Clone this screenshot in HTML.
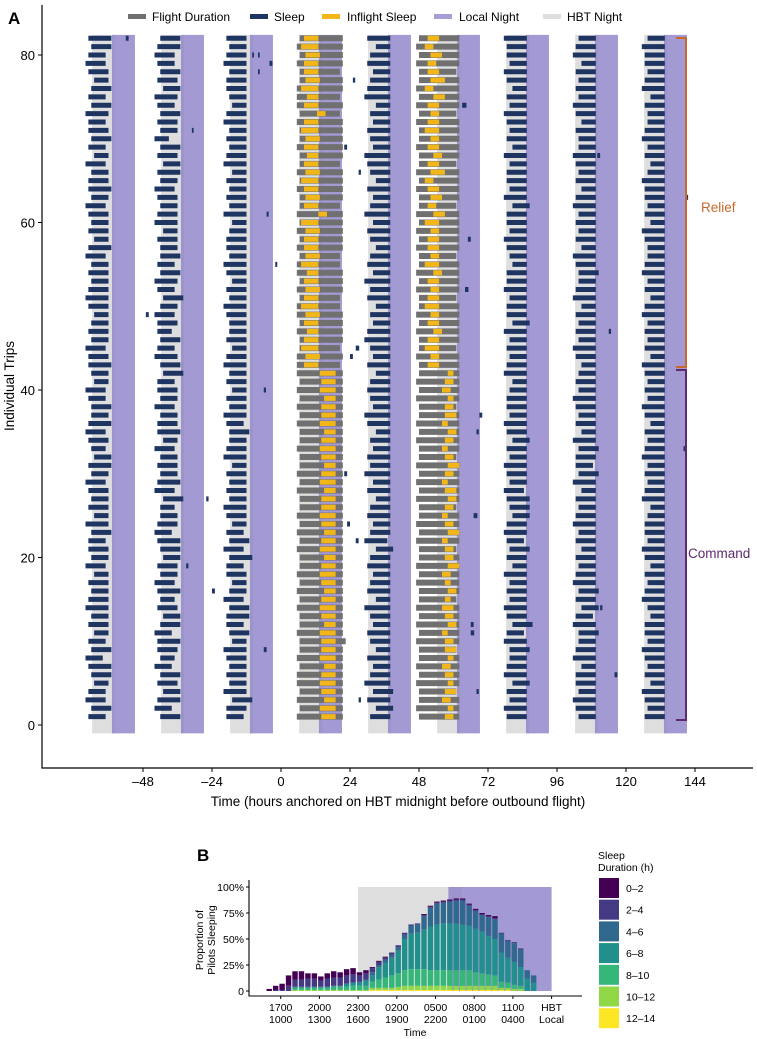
<!DOCTYPE html>
<html><head><meta charset="utf-8">
<style>
html,body{margin:0;padding:0;background:#fff;}
svg{display:block;font-family:"Liberation Sans",Arial,sans-serif;}
</style></head>
<body>
<svg id="chart" width="757" height="1039" viewBox="0 0 757 1039" xmlns="http://www.w3.org/2000/svg">
<g id="gA"></g>
<g id="gB"></g>
</svg>
<script>
// ---------- Panel A data (82 trips; index 0 = trip 1) ----------
const aS=[1,2,0,1,3,2,1,0,2,1,3,1,2,0,1,2,1,3,0,2,1,1,2,0,3,1,2,1,0,2,1,3,2,1,0,1,2,2,1,0,3,2,1,1,0,2,1,2,3,1,0,1,2,1,2,0,1,3,1,2,1,0,2,1,1,2,0,3,1,2,1,1,0,2,1,2,3,1,0,1,2,1];
const aD=[6,7,7,6,5,7,8,6,7,6,5,7,6,8,7,6,7,5,7,6,7,6,7,8,5,7,6,7,7,6,8,6,5,7,7,8,6,7,6,7,5,6,8,7,7,6,7,6,5,7,8,7,6,7,6,7,8,5,7,6,7,7,6,8,7,6,7,5,6,7,7,6,8,7,6,7,5,7,7,6,7,8];
const bS=[2,0,1,3,1,2,0,2,1,1,0,2,3,1,2,1,0,2,1,3,2,1,0,1,2,2,3,0,1,2,1,2,0,3,1,1,2,0,2,1,1,3,2,0,1,2,1,1,0,2,3,1,0,2,1,2,2,1,3,0,1,2,1,0,2,1,3,1,2,0,2,1,2,1,0,3,1,2,1,0,1,2];
const bD=[7,6,8,6,7,7,6,5,7,8,6,7,6,7,5,8,7,6,7,6,7,8,6,7,6,5,7,7,8,6,7,6,7,5,8,7,6,7,6,7,6,7,7,8,6,7,5,7,7,6,7,6,8,7,6,7,6,7,5,8,7,6,7,7,6,8,6,7,7,5,6,7,7,6,8,6,7,7,6,7,8,7];
const cS=[1,1,3,0,2,1,2,1,0,3,2,1,1,2,0,2,3,1,1,2,0,2,1,3,1,0,2,1,2,1,3,0,1,2,2,1,0,2,1,3,1,2,0,1,3,1,2,2,1,0,2,1,3,1,0,2,1,1,2,3,0,2,1,2,1,3,0,1,2,1,2,0,1,3,2,1,1,2,0,1,2,1];
const cD=[6,7,7,8,6,7,6,7,8,5,7,6,8,7,7,6,5,7,6,8,7,7,6,5,7,8,6,7,6,7,5,8,7,6,7,6,8,6,7,5,7,6,8,7,5,7,6,6,7,8,6,7,5,7,8,6,7,7,6,5,8,6,7,6,7,5,8,7,6,7,6,8,7,5,6,7,7,6,8,7,6,7];
const dS=[2,4,1,3,0,2,3,1,4,2,1,3,2,0,4,1,2,3,1,2,4,0,2,3,1,2,4,1,3,0,2,1,3,2,4,1,0,3,2,1,2,4,1,3,2,0,1,3,2,4,1,2,0,3,1,2,4,2,1,3,0,2,3,1,4,2,1,0,3,2,1,3,2,4,0,1,2,3,1,2,4,1];
const dD=[7,6,8,7,9,7,6,8,5,7,8,6,7,9,5,8,7,6,8,7,6,8,7,6,8,7,5,8,6,9,7,8,6,7,5,8,9,6,7,8,7,5,8,6,7,9,8,6,7,5,8,7,9,6,8,7,5,7,8,6,9,7,6,8,5,7,8,9,6,7,8,6,7,5,9,8,7,6,8,7,5,8];
const eS=[1,0,2,1,3,0,1,2,2,0,1,3,1,0,2,1,2,0,3,1,2,1,0,1,3,2,1,0,2,1,0,2,1,3,1,0,2,1,1,2,3,0,1,2,1,2,0,3,1,1,2,0,1,1,3,2,1,0,2,1,1,3,0,2,1,1,2,0,3,1,2,1,0,2,1,3,1,0,2,1,1,0];
const eD=[7,8,6,7,6,8,7,6,7,8,6,7,7,8,6,7,6,8,5,7,7,6,8,7,6,7,8,7,6,7,8,6,7,6,7,8,6,7,7,6,5,8,7,6,7,6,8,6,7,7,6,8,7,7,5,6,7,8,6,7,7,6,8,6,7,7,6,8,5,7,6,7,8,6,7,5,7,8,6,7,7,8];
const fS=[2,1,0,2,1,1,3,0,1,2,2,0,1,3,1,2,0,1,2,1,3,1,2,0,1,2,1,3,0,2,1,1,2,0,3,1,2,1,0,2,1,2,3,1,0,2,1,2,1,3,0,1,2,2,1,0,3,1,2,1,2,0,1,3,1,2,1,0,2,2,1,3,1,0,2,1,2,1,3,0,1,2];
const fD=[6,7,8,6,7,7,5,8,7,6,7,8,6,6,7,7,8,7,6,7,5,7,6,8,7,6,7,5,8,7,6,7,7,8,5,7,6,7,8,6,7,6,5,7,8,6,7,6,7,5,8,7,6,7,7,8,5,7,6,7,6,8,7,5,7,6,7,8,6,6,7,5,7,8,6,7,6,7,5,8,7,6];
const gS=[1,2,1,0,3,1,2,1,0,2,1,1,3,2,0,1,2,1,3,1,0,2,1,1,2,3,0,1,2,1,2,0,1,2,1,3,1,0,2,1,2,1,0,3,1,2,1,2,0,1,3,1,2,0,1,2,2,1,0,3,1,2,1,1,0,2,3,1,2,0,1,2,2,1,3,0,1,2,1,1,0,2];
const gD=[7,6,7,8,5,7,6,7,8,6,7,7,5,6,8,7,6,7,5,7,8,6,7,7,6,5,8,7,6,7,6,8,7,6,7,5,7,8,6,7,6,7,8,5,7,6,7,6,8,7,5,7,6,8,7,6,6,7,8,5,7,6,7,7,8,6,5,7,6,8,7,6,6,7,5,8,7,6,7,7,8,6];
const outS=[6,7,6,7,6,6,7,6,7,7,6,7,7,6,7,6,7,6,7,7,6,7,6,7,6,7,7,6,7,6,7,7,6,7,7,6,7,6,7,6,7,6,6,6,7,7,6,7,6,6,7,6,7,6,6,7,6,7,6,7,6,7,7,6,7,6,7,7,6,7,7,6,7,6,6,6,7,7,6,7,6,7];
const outD=[16,15,16,15,16,16,15,16,15,16,16,15,15,16,15,16,15,16,15,15,16,15,16,15,16,15,15,16,15,16,15,15,16,15,15,16,15,16,15,16,15,16,15,16,14,15,16,15,16,15,14,16,15,16,15,14,16,15,16,15,16,14,15,16,15,16,14,15,16,15,15,16,14,16,15,16,15,14,16,15,16,15];
const outYS=[14,13.5,15,14,13.5,14,15,13.5,14,14,13.5,15,14,13.5,14,15,14,13.5,14,15,13.5,14,15,14,13.5,14,14,15,13.5,14,15,14,13.5,14,15,13.5,14,14,15,13.5,14,13.5,8,8.5,7,8,9,8,8.5,7,8,8.5,8,9,7,8.5,8,8,8.5,7,13,8,8.5,8,7,8.5,8,9,8,8.5,7,8,12.5,8,9,7,8.5,8,8,8.5,7,8];
const outYD=[5,5.5,4,5,5.5,5,4,5.5,5,5,5.5,4,5,5.5,5,4,5,5.5,5,4,5.5,5,4,5,5.5,5,5,4,5.5,5,4,5,5.5,5,4,5.5,5,5,4,5.5,5,5.5,5,5,6,5,4,5,5,6,5,5,5,4,6,5,5,5,5,6,3,5,5,5,6,5,5,4,5,5,6,5,3,5,4,6,5,5,5,5,6,5];
const retS=[48,47,48,48,47,48,47,48,48,47,48,47,48,47,48,48,47,48,47,48,48,47,48,47,48,48,47,48,47,48,47,48,48,47,48,47,48,48,47,48,47,48,48,47,48,48,47,48,47,48,48,47,48,47,48,48,47,48,47,48,47,48,48,47,48,47,48,48,47,48,48,47,48,47,48,47,48,48,47,48,47,48];
const retD=[14,15,14,13,15,14,15,14,13,15,14,15,14,15,13,14,15,14,15,14,13,15,14,15,14,13,15,14,15,14,15,13,14,15,14,15,14,13,15,14,15,14,14,15,13,14,15,14,15,14,13,15,14,15,14,13,15,14,15,14,15,13,14,15,14,15,13,14,15,14,14,15,13,15,14,15,14,13,15,14,15,14];
const retYS=[57,58,56,57,58,57,56,58,57,57,56,58,57,56,57,58,57,56,58,57,57,56,58,57,56,57,58,57,56,57,58,57,56,57,58,56,57,57,58,56,57,58,51,52,50,51,53,51,52,50,51,52,51,53,50,52,51,51,52,50,53,51,52,51,50,52,51,53,51,52,50,51,52,51,53,50,52,51,51,52,50,51];
const retYD=[3,2,3,4,2,3,3,2,4,3,2,3,3,4,2,3,2,3,4,3,3,2,4,3,2,3,3,4,2,3,4,3,2,3,3,2,4,3,2,3,3,2,4,3,5,4,3,4,3,5,4,3,4,3,5,3,4,4,3,5,4,3,4,4,3,5,4,3,4,3,5,4,3,4,4,3,5,4,3,4,3,4];
const napTrip=[82,80,80,79,77,74,71,68,66,63,58,55,52,49,47,44,40,37,33,30,27,25,22,19,16,14,11,9,6,4,78,69,61,45,35,24,12,3];
const napHour=[-54,-10,-8,-4,25,63,-31,110,27,141,65,-2,64,-47,114,24,-6,69,140,22,-26,67,26,-33,-24,111,66,-6,116,68,-8,22,-5,26,68,23,66,27];
const napDur=[1,0.6,0.6,1,0.8,1.5,0.6,1,0.8,0.6,1,0.7,1.2,1,0.8,1,0.8,1,0.6,1,0.8,1.3,1,0.8,1,0.8,1.2,1,1,0.8,0.6,1,0.7,1.2,0.8,1,1,0.8];
const xTicksA=[-48,-24,0,24,48,72,96,120,144];
const yTicksA=[0,20,40,60,80];
const bandDays=[-72,-48,-24,0,24,48,72,96,120];

// ---------- Panel B data (half-hour bins) ----------
const binIndex=[0,1,2,3,4,5,6,7,8,9,10,11,12,13,14,15,16,17,18,19,20,21,22,23,24,25,26,27,28,29,30,31,32,33,34,35,36,37,38,39,40,41];
const c1214=[0,0,0,0,0,0,0,0,0,0,0,0,0,0,0,0,1,1,1,1,1,1,1,1,1,1,1,1,1,1,1,1,1,1,1,1,1,1,0,0,0,0];
const c1012=[0,0,0,0,1,1,1,1,1,1,1,1,1,1,1,1,2,2,2,2,3,4,4,4,4,4,4,4,4,4,4,4,4,4,4,4,2,2,2,2,0,0];
const c810=[0,0,0,0,2,2,2,2,2,2,3,3,3,4,4,4,6,8,10,12,13,15,16,16,16,15,15,15,15,15,15,15,13,12,11,10,6,5,4,3,0,0];
const c68=[0,0,0,0,1,1,1,1,1,1,1,1,3,3,3,5,6,12,14,17,22,30,34,35,38,42,44,45,45,45,44,43,42,40,37,35,28,24,22,18,12,8];
const c46=[0,0,0,0,0,0,0,0,0,0,0,0,0,0,1,1,3,2,3,3,3,4,8,8,13,18,20,20,21,22,23,19,17,16,18,19,18,16,18,17,8,7];
const c24=[0,1,1,5,7,7,8,8,6,8,8,8,8,8,6,6,4,3,2,2,2,2,1,1,1,1,1,1,1,1,1,1,1,1,1,1,1,1,1,1,0,0];
const c02=[2,4,6,10,8,8,5,5,4,5,6,5,6,6,3,3,1,1,1,0,0,0,0,0,1,1,1,1,1,1,1,1,1,1,1,2,0,0,0,0,0,0];
const catLabels=["0–2","2–4","4–6","6–8","8–10","10–12","12–14"];
const xTicksBHbt=["1700","2000","2300","0200","0500","0800","1100","HBT"];
const xTicksBLoc=["1000","1300","1600","1900","2200","0100","0400","Local"];
const yTicksB=[0,25,50,75,100];

const NS="http://www.w3.org/2000/svg";
const gA=document.getElementById('gA');
const gB=document.getElementById('gB');
function mk(tag,parent,attrs){const e=document.createElementNS(NS,tag);for(const k in attrs)e.setAttribute(k,attrs[k]);parent.appendChild(e);return e;}
function txt(parent,x,y,s,size,anchor,fill,weight){const e=mk('text',parent,{x:x,y:y,'font-size':size,'text-anchor':anchor||'start',fill:fill||'#000','font-weight':weight||'normal'});e.textContent=s;return e;}

const xA=h=>281+h*2.875;
const yA=t=>725-t*8.375;

bandDays.forEach((d,i)=>{
  const g=mk('rect',gA,{x:xA(d+6.3),y:yA(82.4),width:xA(d+14.3)-xA(d+6.3),height:yA(-1)-yA(82.4),fill:'#dedede'});
  
  
  const p=mk('rect',gA,{x:xA(d+13.2),y:yA(82.4),width:xA(d+21.2)-xA(d+13.2),height:yA(-1)-yA(82.4),fill:'rgba(140,128,200,0.8)'});
  
  
});

function bar(h0,dur,trip,fill,hh,name){
  if(dur<=0)return;
  const r=mk('rect',gA,{x:xA(h0),y:yA(trip)-hh/2,width:dur*2.875,height:hh,fill:fill});
  
  
}
const NAVY='#1e3461',GREY='#707070',YEL='#f2b619';
const cols=[[aS,aD,-68],[bS,bD,-44],[cS,cD,-20],[dS,dD,29],[eS,eD,77.5],[fS,fD,101.5],[gS,gD,125.5]];
for(let i=0;i<82;i++){
  const t=i+1;
  bar(outS[i]-0.5,outD[i],t,GREY,6,'flight-duration-bar');
  bar(outYS[i],outYD[i],t,YEL,5,'inflight-sleep-bar');
  bar(retS[i],retD[i],t,GREY,6,'flight-duration-bar');
  bar(retYS[i],retYD[i],t,YEL,5,'inflight-sleep-bar');
  cols.forEach(c=>bar(c[2]+c[0][i],c[1][i],t,NAVY,5,'sleep-bar'));
}
napTrip.forEach((t,i)=>bar(napHour[i],napDur[i],t,NAVY,5,'nap-bar'));

const axA=mk('path',gA,{d:'M42,5 V768 H753',stroke:'#000','stroke-width':1.2,fill:'none'});


xTicksA.forEach(v=>{
  mk('line',gA,{x1:xA(v),x2:xA(v),y1:768,y2:772,stroke:'#000'});
  const l=txt(gA,xA(v),786,v<0?'–'+(-v):String(v),13,'middle');
  
  
});
yTicksA.forEach(v=>{
  mk('line',gA,{x1:38,x2:42,y1:yA(v),y2:yA(v),stroke:'#000'});
  const l=txt(gA,35,yA(v)+5,String(v),13,'end');
  
  
});
const xt=txt(gA,398,806,'Time (hours anchored on HBT midnight before outbound flight)',13.5,'middle');


const yt=txt(gA,0,0,'Individual Trips',13.5,'middle');
yt.setAttribute('transform','translate(14,386) rotate(-90)');


const la=txt(gA,8,24,'A',17,'start','#000','bold');



const legA=[['Flight Duration',GREY,128,152],['Sleep',NAVY,250,274],['Inflight Sleep',YEL,322,347],['Local Night','#a69ed4',434,459],['HBT Night','#dedede',543,567]];
legA.forEach(l=>{
  const s=mk('rect',gA,{x:l[2],y:14,width:18,height:5,fill:l[1]});
  
  
  const tt=txt(gA,l[3],21,l[0],12);
  
  
});

const br1=mk('path',gA,{d:'M676,38 H686 V367 H676',stroke:'#c8692c','stroke-width':2,fill:'none'});


const br2=mk('path',gA,{d:'M676,370 H686 V720 H676',stroke:'#5e2a6e','stroke-width':2,fill:'none'});


const rl=txt(gA,701,212,'Relief',13.5,'start','#c8692c');


const cl=txt(gA,688,558,'Command',13.5,'start','#5e2a6e');



// ---------- Panel B ----------
const xB=h=>280.7+(h-17)*12.9;
const yB=p=>991-p*1.04;
const bgG=mk('rect',gB,{x:xB(23),y:yB(100),width:xB(31)-xB(23),height:yB(0)-yB(100),fill:'#dedede'});


const bgP=mk('rect',gB,{x:xB(30),y:yB(100),width:xB(38)-xB(30),height:yB(0)-yB(100),fill:'rgba(140,128,200,0.8)'});


const VIR=['#440154','#443a83','#31688e','#21908c','#35b779','#8fd744','#fde725'];
const stackOrder=[[c1214,6],[c1012,5],[c810,4],[c68,3],[c46,2],[c24,1],[c02,0]];
binIndex.forEach(i=>{
  const h0=15.86+i*0.5;
  let cum=0;
  stackOrder.forEach(s=>{
    const v=s[0][i];
    if(v>0){
      const r=mk('rect',gB,{x:xB(h0)+0.5,y:yB(cum+v),width:12.9*0.5-1,height:v*1.04,fill:VIR[s[1]]});
      
      
    }
    cum+=v;
  });
});
const axB=mk('path',gB,{d:'M249,880 V996 H582',stroke:'#000','stroke-width':1.1,fill:'none'});


yTicksB.forEach(v=>{
  mk('line',gB,{x1:246,x2:249,y1:yB(v),y2:yB(v),stroke:'#000'});
  const l=txt(gB,244,yB(v)+4,v===0?'0':v+'%',10.5,'end');
  
  
});
xTicksBHbt.forEach((s,i)=>{
  const x=xB(17+3*i);
  mk('line',gB,{x1:x,x2:x,y1:996,y2:999,stroke:'#000'});
  const a=txt(gB,x,1011,s,10.5,'middle');
  
  
  const b=txt(gB,x,1023,xTicksBLoc[i],10.5,'middle');
  
  
});
const tB=txt(gB,415,1036,'Time',10.5,'middle');


const yb1=txt(gB,0,0,'Proportion of',10.5,'middle');
yb1.setAttribute('transform','translate(203,940) rotate(-90)');


const yb2=txt(gB,0,0,'Pilots Sleeping',10.5,'middle');
yb2.setAttribute('transform','translate(215,940) rotate(-90)');


const lb=txt(gB,197,861,'B',17,'start','#000','bold');


const lt1=txt(gB,598,859,'Sleep',10.5);


const lt2=txt(gB,598,871,'Duration (h)',10.5);


catLabels.forEach((s,i)=>{
  const y=878+i*21.7;
  const r=mk('rect',gB,{x:599,y:y,width:20,height:20,fill:VIR[i]});
  
  
  const l=txt(gB,626,y+14,s,10.5);
  
  
});
</script>
</body></html>
